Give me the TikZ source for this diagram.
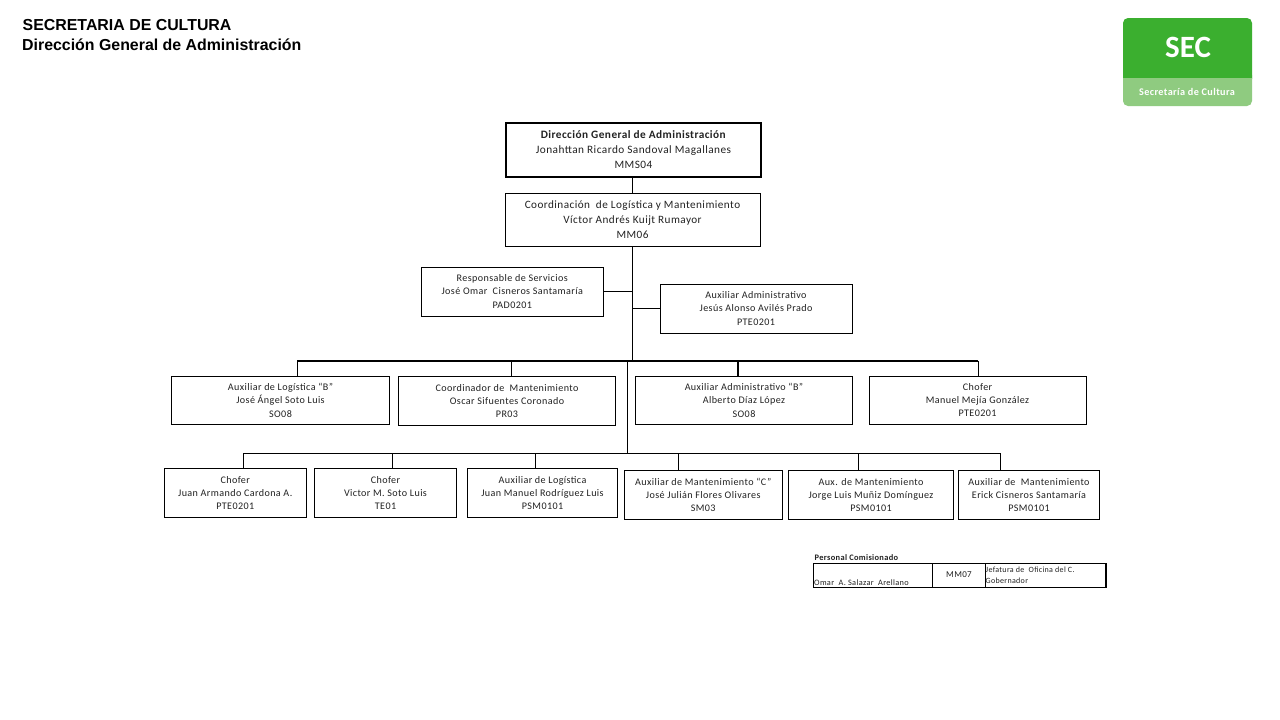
\documentclass[tikz,border=0pt]{standalone}
\usepackage{fontspec}
\setmainfont{Carlito}[LetterSpace=4]
\newfontfamily\headfont{Liberation Sans}
\newfontfamily\logofont{Carlito}
\definecolor{logogreen}{HTML}{3BAF2F}
\definecolor{logolight}{HTML}{8FCB80}
\definecolor{ink}{HTML}{222222}
\tikzset{
  x=1pt,y=-1pt,
  orgbox/.style={draw=black,line width=0.9pt,outer sep=0pt,fill=white,inner sep=0pt,text=ink,align=center,anchor=north west,font=\fontsize{10.1}{13.2}\selectfont},
  smallbox/.style={orgbox},
  topbox/.style={orgbox,line width=2pt,font=\fontsize{11.3}{15}\selectfont},
  midbox/.style={orgbox,font=\fontsize{11.2}{15.2}\selectfont},
  link/.style={draw=black,line width=0.9pt},
  bus/.style={draw=black,line width=2pt},
  head/.style={anchor=west,inner sep=0pt,font=\headfont\bfseries\fontsize{15.9}{16}\selectfont},
  cell/.style={draw=black,line width=0.8pt,outer sep=0pt,inner sep=0pt,anchor=north west,text=ink},
}
\newcommand{\obox}[7][smallbox]{%
  \node[#1,minimum width=#5pt-#3pt,minimum height=#6pt-#4pt] (#2) at (#3,#4) {#7};}
\begin{document}
\begin{tikzpicture}
\useasboundingbox (0,0) rectangle (1280,720);
\fill[white] (0,0) rectangle (1280,720);
% header
\node[head] (t1) at (22.5,25.5) {SECRETARIA DE CULTURA};
\node[head] (t2) at (22,44.5) {Dirección General de Administración};
% logo
\fill[logolight,rounded corners=5pt] (1123,70) rectangle (1252,106);
\fill[logogreen,rounded corners=5pt] (1123,18) rectangle (1252,84);
\fill[logolight] (1123,78) rectangle (1252,92);
\node[text=white,inner sep=0pt] (logo1) at (1188,47) {\logofont\fontsize{31}{31}\selectfont\bfseries SEC};
\node[text=white,inner sep=0pt] (logo2) at (1187,92) {\fontsize{10.2}{11}\selectfont\bfseries Secretaría de Cultura};
% bus coordinates
\coordinate (busL) at (297,361);
\coordinate (busR) at (978,361);
\coordinate (lowL) at (243,453.5);
\coordinate (lowR) at (1000.7,453.5);
\coordinate (trunkA) at (632,361);
\coordinate (trunkB) at (627.5,361);
\coordinate (trunkC) at (627.5,453.5);
% boxes
\obox[topbox]{dg}{506}{123}{761}{177}{\raisebox{1pt}{\parbox{250pt}{\centering\textbf{Dirección General de Administración}\\Jonahttan Ricardo Sandoval Magallanes\\MMS04}}}
\obox[midbox]{cl}{505}{193}{760}{246}{Coordinación~ de Logística y Mantenimiento\\Víctor Andrés Kuijt Rumayor\\MM06}
\obox{rs}{421.5}{267}{603}{316}{Responsable de Servicios\\José Omar~ Cisneros Santamaría\\PAD0201}
\obox{aa}{660}{284}{852}{333}{Auxiliar Administrativo\\Jesús Alonso Avilés Prado\\PTE0201}
\obox{r1}{171.5}{376}{389.5}{424.5}{Auxiliar de Logística “B”\\José Ángel Soto Luis\\SO08}
\obox{r2}{398.5}{376}{615.5}{425.5}{Coordinador de~ Mantenimiento\\Oscar Sifuentes Coronado\\PR03}
\obox{r3}{635.5}{376}{852.5}{424.5}{Auxiliar Administrativo “B”\\Alberto Díaz López\\SO08}
\obox{r4}{869}{376}{1086}{424.5}{Chofer\\Manuel Mejía González\\PTE0201}
\obox{s1}{164}{468.5}{306.5}{517}{Chofer\\Juan Armando Cardona A.\\PTE0201}
\obox{s2}{314.5}{468.5}{456.5}{517}{Chofer\\Victor M. Soto Luis\\TE01}
\obox{s3}{467.5}{468.5}{617.5}{517}{Auxiliar de Logística\\Juan Manuel Rodríguez Luis\\PSM0101}
\obox{s4}{624}{470.5}{782.5}{519.5}{Auxiliar de Mantenimiento “C”\\José Julián Flores Olivares\\SM03}
\obox{s5}{788.5}{470.5}{953.5}{519.5}{Aux. de Mantenimiento\\Jorge Luis Muñiz Domínguez\\PSM0101}
\obox{s6}{958.5}{470.5}{1099.5}{519.5}{Auxiliar de~ Mantenimiento\\Erick Cisneros Santamaría\\PSM0101}
% connectors
\coordinate (d1) at (511.5,361);
\coordinate (d2) at (738,361);
\coordinate (e2) at (392.5,453.5);
\coordinate (e3) at (535.5,453.5);
\coordinate (e4) at (678.5,453.5);
\coordinate (e5) at (858.5,453.5);
\draw[link] (dg.south -| trunkA) -- (cl.north -| trunkA);
\draw[link] (cl.south -| trunkA) -- (trunkA);
\draw[link] (rs.east) -- (rs.east -| trunkA);
\draw[link] (aa.west) -- (aa.west -| trunkA);
\draw[bus] (busL) -- (busR);
\draw[link] (busL) -- (busL |- r1.north);
\draw[link] (d1) -- (d1 |- r2.north);
\draw[bus] (d2) -- (d2 |- r3.north);
\draw[link] (busR) -- (busR |- r4.north);
\draw[link] (trunkB) -- (trunkC);
\draw[link] (lowL) -- (lowR);
\draw[link] (lowL) -- (lowL |- s1.north);
\draw[link] (e2) -- (e2 |- s2.north);
\draw[link] (e3) -- (e3 |- s3.north);
\draw[link] (e4) -- (e4 |- s4.north);
\draw[link] (e5) -- (e5 |- s5.north);
\draw[link] (lowR) -- (lowR |- s6.north);
% table
\node[anchor=west,inner sep=0pt,font=\bfseries\fontsize{8.4}{9}\selectfont,text=ink] (pc) at (814.5,558) {Personal Comisionado};
\node[cell,minimum width=119.5pt,minimum height=23.5pt] (c1) at (813,563.5) {};
\node[cell,minimum width=52.5pt,minimum height=23.5pt] (c2) at (932.5,563.5) {};
\node[cell,minimum width=121pt,minimum height=23.5pt] (c3) at (985,563.5) {};
\draw[line width=1.3pt] (c3.north east) -- (c3.south east);
\node[anchor=west,inner sep=0pt,text=ink,font=\fontsize{8.3}{9}\selectfont] (c1t) at (814,582.5) {Omar~ A. Salazar~ Arellano};
\node[inner sep=0pt,text=ink,font=\fontsize{9}{9}\selectfont] (c2t) at (959,575) {MM07};
\node[anchor=west,align=left,inner sep=0pt,text=ink,font=\fontsize{8}{11}\selectfont] (c3t) at (985.5,575.5) {Jefatura de~ Oficina del C.\\Gobernador};
\end{tikzpicture}
\end{document}
